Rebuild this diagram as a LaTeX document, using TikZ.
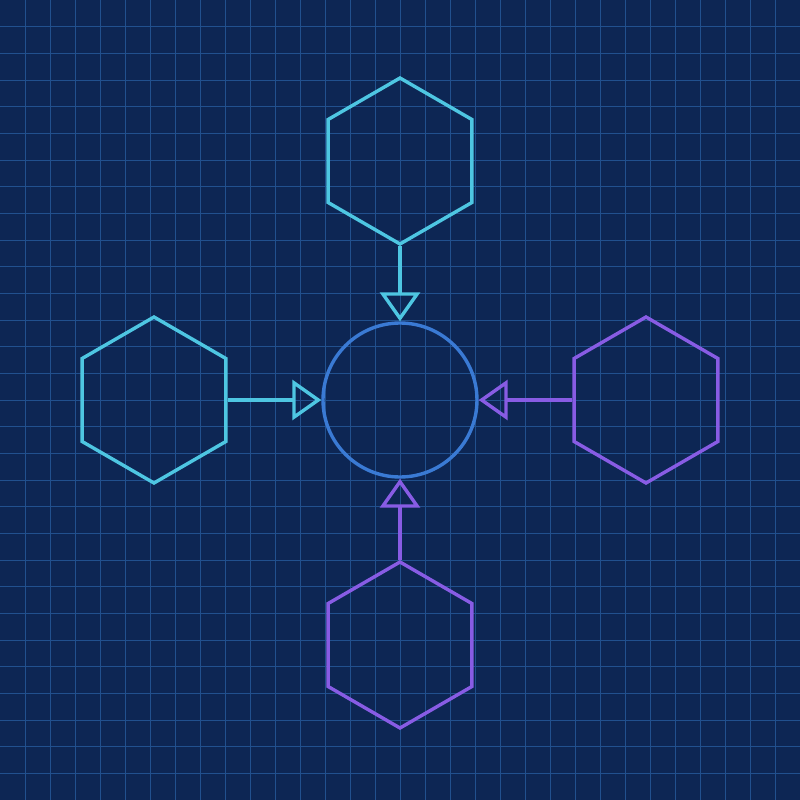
\documentclass[tikz,border=0pt]{standalone}
\usetikzlibrary{shapes.geometric,arrows.meta}
\definecolor{bgnavy}{RGB}{13,38,84}
\definecolor{gridblue}{RGB}{33,80,142}
\definecolor{cyanline}{RGB}{78,198,226}
\definecolor{purpleline}{RGB}{136,92,228}
\definecolor{hubblue}{RGB}{58,122,212}
\tikzset{
  hexnode/.style={regular polygon, regular polygon sides=6, shape border rotate=90,
    minimum size=166pt, inner sep=0pt, line width=3.4pt, draw=#1, fill=none},
  hubnode/.style={circle, minimum size=154pt, inner sep=0pt, line width=3.4pt, draw=hubblue},
  link/.style={line width=3.4pt, draw=#1,
    -{Triangle[open, length=29pt, width=40pt, line width=3.4pt]}},
  gridline/.style={draw=gridblue, line width=1pt}
}
\begin{document}
\begin{tikzpicture}[x=1pt,y=-1pt]
  \fill[bgnavy] (0,0) rectangle (800,800);
  \useasboundingbox (0,0) rectangle (800,800);
  \foreach \k in {1,...,31} {\draw[gridline] (25*\k,0) -- (25*\k,800);}
  \foreach \k in {1,...,29} {\draw[gridline] (0,26.667*\k) -- (800,26.667*\k);}
  \node[hubnode] (hub) at (400,400) {};
  \node[hexnode=cyanline] (hexTop) at (400,161) {};
  \node[hexnode=cyanline] (hexLeft) at (154,400) {};
  \node[hexnode=purpleline] (hexRight) at (646,400) {};
  \node[hexnode=purpleline] (hexBottom) at (400,645) {};
  \draw[link=cyanline] (hexTop) -- (hub);
  \draw[link=cyanline] (hexLeft) -- (hub);
  \draw[link=purpleline] (hexRight) -- (hub);
  \draw[link=purpleline] (hexBottom) -- (hub);
\end{tikzpicture}
\end{document}
